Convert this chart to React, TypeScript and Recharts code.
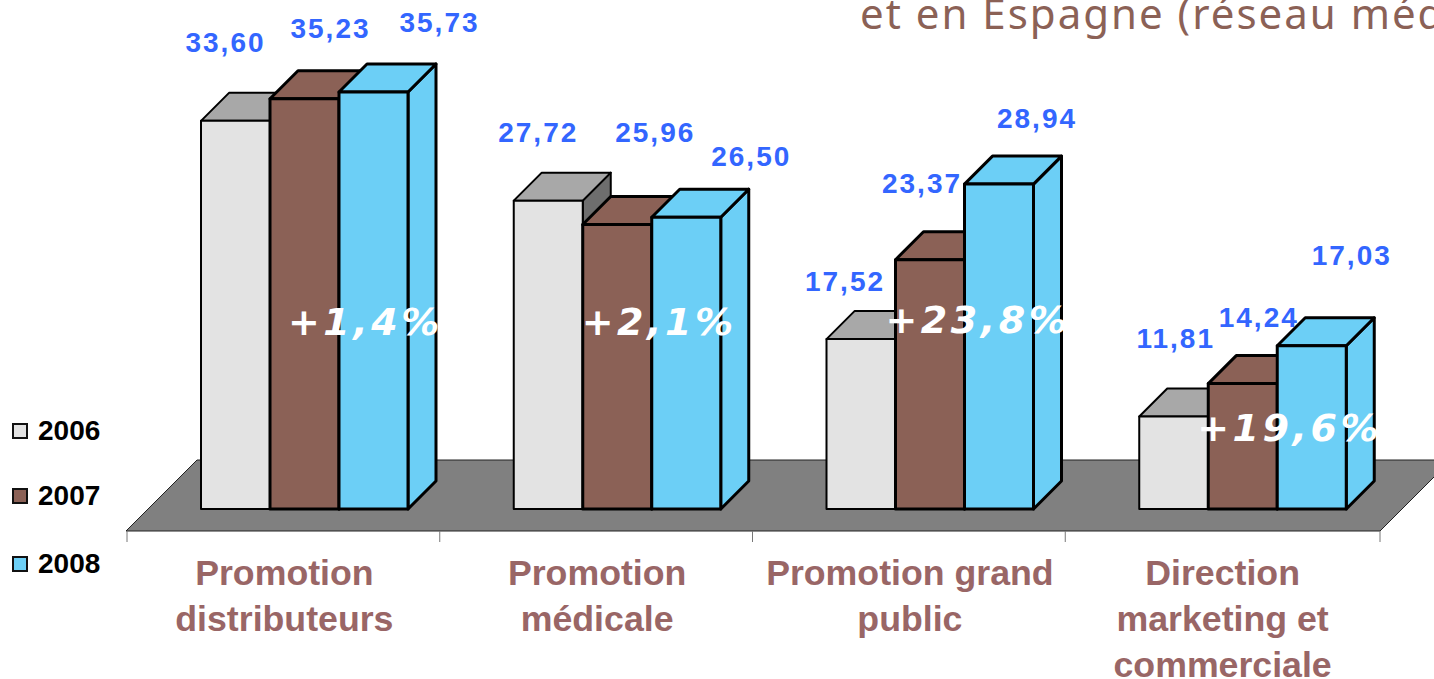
import { Bar, ComposedChart, LabelList, Legend, Line, ReferenceArea, XAxis, YAxis } from 'recharts'

const categories = ['Promotion\ndistributeurs', 'Promotion\nmédicale', 'Promotion grand\npublic', 'Direction\nmarketing et\ncommerciale']
const values2006 = [33.6, 27.72, 17.52, 11.81]
const values2007 = [35.23, 25.96, 23.37, 14.24]
const values2008 = [35.73, 26.5, 28.94, 17.03]
const growth = ['+1,4%', '+2,1%', '+23,8%', '+19,6%']
// height of the growth caption on the value axis
const growthLevel = [18.8, 18.8, 18.9, 11]

// hand placement of the value captions, [dx, dy] from top of bar
const nudge2006 = [[-10, -78], [-10, -68], [-16, -58], [2, -78]]
const nudge2007 = [[26, -70], [38, -92], [-8, -76], [16, -66]]
const nudge2008 = [[66, -69], [65, -61], [38, -66], [40, -90]]
const growthDx = [61, 42, 48, 47]

const rows = categories.map((name, i) => ({
  name,
  y2006: values2006[i],
  y2007: values2007[i],
  y2008: values2008[i],
  growthLevel: growthLevel[i],
  growth: growth[i],
}))

const DEPTH = 28
const SANS = '"Liberation Sans", Arial, sans-serif'

function box(p: any, topFill: string, sideFill: string, sw: number) {
  const { x, y, width: w, height: h, fill } = p
  const common = { stroke: '#000', strokeWidth: sw, strokeLinejoin: 'round' as const }
  return (
    <g>
      <polygon {...common} fill={sideFill} points={`${x + w},${y} ${x + w + DEPTH},${y - DEPTH} ${x + w + DEPTH},${y + h - DEPTH} ${x + w},${y + h}`} />
      <polygon {...common} fill={topFill} points={`${x},${y} ${x + DEPTH},${y - DEPTH} ${x + w + DEPTH},${y - DEPTH} ${x + w},${y}`} />
      <rect {...common} x={x} y={y} width={w} height={h} fill={fill} />
    </g>
  )
}

const valueLabel = (nudges: number[][]) => (p: any) => {
  const [dx, dy] = nudges[p.index]
  return (
    <text
      x={p.x + p.width / 2 + dx}
      y={p.y + dy}
      textAnchor="middle"
      dominantBaseline="central"
      fill="#3366ff"
      fontFamily={SANS}
      fontWeight="bold"
      fontSize={28}
      letterSpacing={2}
    >
      {Number(p.value).toFixed(2).replace('.', ',')}
    </text>
  )
}

const growthLabel = (p: any) => (
  <text
    x={p.x + growthDx[p.index]}
    y={p.y}
    textAnchor="middle"
    dominantBaseline="central"
    fill="#fff"
    fontFamily='"DejaVu Sans"'
    fontStyle="italic"
    fontWeight="bold"
    fontSize={38}
    letterSpacing={3.5}
  >
    {p.value}
  </text>
)

const Floor = (p: any) => {
  const left = p.x
  const right = p.x + p.width
  const base = p.y + p.height
  return (
    <polygon
      points={`${left - 22},${base + 22} ${right - 19},${base + 22} ${right + 52},${base - 49} ${left + 49},${base - 49}`}
      fill="#808080"
      stroke="#222"
      strokeWidth={1}
    />
  )
}

const CategoryTick = (p: any) => {
  const step = 312.75
  const lines = String(p.payload.value).split('\n')
  const edge = p.x - 21 - step / 2
  return (
    <g>
      <line x1={edge} x2={edge} y1={p.y + 22} y2={p.y + 33} stroke="#777" strokeWidth={1} />
      {p.index === categories.length - 1 && (
        <line x1={edge + step + 2} x2={edge + step + 2} y1={p.y + 22} y2={p.y + 33} stroke="#777" strokeWidth={1} />
      )}
      <text textAnchor="middle" fill="#996666" fontFamily={SANS} fontWeight="bold" fontSize={35.7}>
        {lines.map((line, i) => (
          <tspan key={line} x={p.x - 20} y={p.y + 76 + i * 46}>{line}</tspan>
        ))}
      </text>
    </g>
  )
}

const legendTops = [414, 479, 547]

const YearLegend = ({ payload }: any) => (
  <div>
    {(payload ?? []).filter((item: any) => item.type !== 'none' && item.dataKey !== 'growthLevel').map((item: any, i: number) => (
      <div
        key={item.value}
        style={{ position: 'absolute', left: 12, top: legendTops[i], height: 34, display: 'flex', alignItems: 'center' }}
      >
        <span style={{ width: 12, height: 12, background: item.color, border: '2px solid #111', marginRight: 10 }} />
        <span style={{ fontFamily: SANS, fontWeight: 'bold', fontSize: 28, color: '#000' }}>{item.value}</span>
      </div>
    ))}
  </div>
)

export default function App() {
  return (
    <div style={{ position: 'absolute', left: 0, top: 0, width: 1434, height: 679, overflow: 'hidden', background: '#fff' }}>
      <div
        style={{
          position: 'absolute',
          left: 860,
          top: -16,
          whiteSpace: 'nowrap',
          color: '#8b6156',
          fontFamily: '"Noto Sans"',
          fontSize: 42,
          letterSpacing: 2,
        }}
      >
        et en Espagne (réseau médical)
      </div>
      <ComposedChart
        width={1434}
        height={679}
        data={rows}
        barSize={69}
        barGap={0}
        margin={{ top: 34, right: 35, bottom: 0, left: 148 }}
        style={{ position: 'absolute', left: 0, top: 0 }}
      >
        <XAxis dataKey="name" height={170} interval={0} tickLine={false} axisLine={false} tickSize={0} tickMargin={0} tick={CategoryTick} />
        <YAxis hide domain={[5, 40]} />
        <ReferenceArea y1={5} y2={40} ifOverflow="visible" shape={Floor} />
        <Legend
          layout="horizontal"
          align="center"
          verticalAlign="middle"
          content={YearLegend}
          wrapperStyle={{ left: 0, top: 0, width: 0, height: 0 }}
        />
        <Bar dataKey="y2006" name="2006" fill="#e3e3e3" isAnimationActive={false} shape={(p: any) => box(p, '#a8a8a8', '#6e6e6e', 2)}>
          <LabelList dataKey="y2006" content={valueLabel(nudge2006)} />
        </Bar>
        <Bar dataKey="y2007" name="2007" fill="#8b6156" isAnimationActive={false} shape={(p: any) => box(p, '#8b6156', '#8b6156', 3)}>
          <LabelList dataKey="y2007" content={valueLabel(nudge2007)} />
        </Bar>
        <Bar dataKey="y2008" name="2008" fill="#6ccff6" isAnimationActive={false} shape={(p: any) => box(p, '#6ccff6', '#6ccff6', 3)}>
          <LabelList dataKey="y2008" content={valueLabel(nudge2008)} />
        </Bar>
        <Line dataKey="growthLevel" stroke="none" dot={false} legendType="none" isAnimationActive={false}>
          <LabelList dataKey="growth" content={growthLabel} />
        </Line>
      </ComposedChart>
    </div>
  )
}
